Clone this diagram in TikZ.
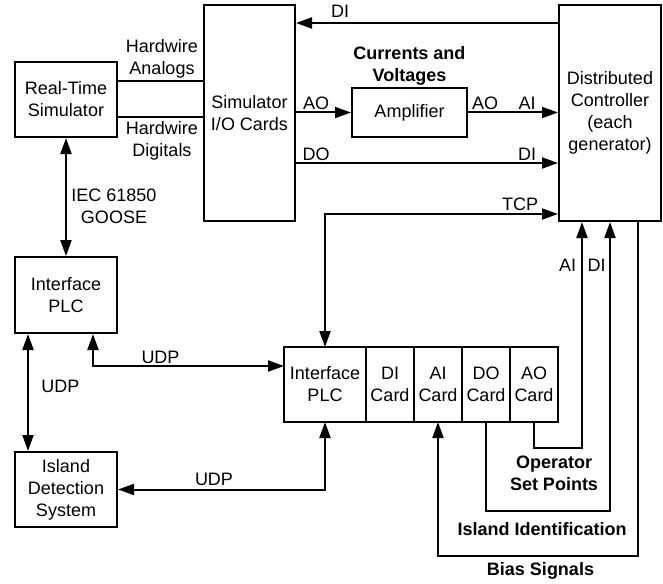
\documentclass[tikz,border=0pt]{standalone}
\usepackage{fontspec}
\setmainfont{Liberation Sans}
\usetikzlibrary{arrows.meta,positioning}
\tikzset{box/.style={draw, line width=2pt, align=center, inner sep=2pt}}
\tikzset{card/.style={box, outer sep=0pt, minimum width=48pt, minimum height=75pt}}

\begin{document}
\begin{tikzpicture}[
		x=1pt, y=-1pt,
		font=\fontsize{18}{22}\selectfont,
		>={Triangle[length=16pt,width=11pt]},
		wire/.style={line width=2pt},
		lbl/.style={inner sep=0pt, align=center},
		tag/.style={lbl, anchor=base},
		bold lbl/.style={lbl, font=\fontsize{18}{22}\selectfont\bfseries}
		]    % y runs downwards, 1pt per pixel of the sketch
		\useasboundingbox (0,0) rectangle (663,583);

		% main blocks
		\node[box, minimum width=102pt, minimum height=75pt] (rts) at (66,99.5) {Real-Time\\Simulator};
		\node[box, minimum width=91pt, minimum height=216pt] (sio) at (249.5,113) {Simulator\\I/O Cards};
		\node[box, minimum width=102pt, minimum height=216pt] (dc) at (610,113) {Distributed\\Controller\\(each\\generator)};
		\node[box, minimum width=115pt, minimum height=49pt] (amp) at (409.5,112.5) {Amplifier};
		\node[box, minimum width=102pt, minimum height=76pt] (iplc) at (66,295) {Interface\\PLC};
		\node[box, minimum width=102pt, minimum height=75pt] (ids) at (66,489.5) {Island\\Detection\\System};

		% PLC rack with its cards
		\node[box, outer sep=0pt, minimum width=82pt, minimum height=75pt] (plc) at (325,384.5) {Interface\\PLC};
		\node[card, right=0pt of plc] (dic) {DI\\Card};
		\node[card, right=0pt of dic] (aic) {AI\\Card};
		\node[card, right=0pt of aic] (doc) {DO\\Card};
		\node[card, right=0pt of doc] (aoc) {AO\\Card};

		% hardwire links
		\draw[wire] (rts.east |- 0,81) -- (sio.west |- 0,81);
		\draw[wire] (rts.east |- 0,117) -- (sio.west |- 0,117);
		\node[lbl] (hwAna) at (162,59) {Hardwire\\Analogs};
		\node[lbl] (hwDig) at (162,141) {Hardwire\\Digitals};

		% simulator cards <-> controller
		\draw[wire, ->] (dc.west |- 0,23) -- (sio.east |- 0,23);
		\draw[wire, ->] (sio.east |- amp.west) -- (amp.west);
		\draw[wire, ->] (amp.east) -- (dc.west |- amp.east);
		\draw[wire, ->] (sio.east |- 0,163) -- (dc.west |- 0,163);
		\draw[wire, <->] (dc.west |- 0,214) -| (plc.north);
		\node[tag] (diTop) at (340,18) {DI};
		\node[tag] (aoSio) at (316,110) {AO};
		\node[tag] (aoAmp) at (485,110) {AO};
		\node[tag] (aiDc) at (527,110) {AI};
		\node[tag] (doSio) at (316,160) {DO};
		\node[tag] (diDc) at (527,160) {DI};
		\node[tag] (tcp) at (520,210) {TCP};
		\node[bold lbl] (curVolt) at (409.5,66) {Currents and\\Voltages};

		% left column
		\draw[wire, <->] (rts.south) -- (iplc.north);
		\node[lbl] (goose) at (114,206) {IEC 61850\\GOOSE};
		\draw[wire, <->] ([xshift=-38pt]iplc.south) -- ([xshift=-38pt]ids.north);
		\draw[wire, <->] ([xshift=27pt]iplc.south) |- (plc.west |- 0,366);
		\draw[wire, <->] (plc.south) |- (ids.east);
		\node[tag] (udpTop) at (160.5,363) {UDP};
		\node[tag] (udpMid) at (60.5,392) {UDP};
		\node[tag] (udpLow) at (214,485) {UDP};

		% cards -> controller
		\draw[wire, ->] (aoc.south) |- (582,448) -- (582,0 |- dc.south);
		\draw[wire, ->] (doc.south) |- (610,511) -- (610,0 |- dc.south);
		\draw[wire, <-] (aic.south) |- (638,556) -- (638,0 |- dc.south);
		\node[tag] (aiOp) at (567.5,271) {AI};
		\node[tag] (diIsl) at (596.5,271) {DI};
		\node[bold lbl] (opSet) at (554,473) {Operator\\Set Points};
		\node[bold lbl, anchor=base] (islId) at (542,535) {Island Identification};
		\node[bold lbl, anchor=base] (bias) at (540.5,575) {Bias Signals};
	\end{tikzpicture}
\end{document}
